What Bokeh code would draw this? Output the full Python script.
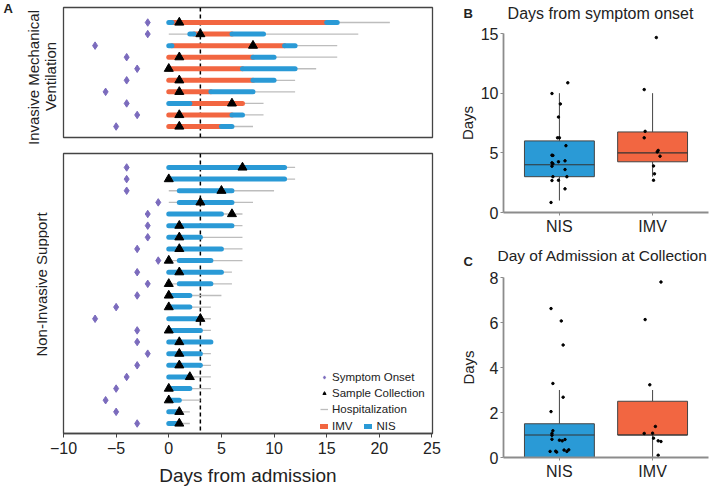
import math
from bokeh.plotting import figure
from bokeh.models import (Range1d, FixedTicker, Span, Legend, LegendItem, Label,
                          ColumnDataSource)
from bokeh.layouts import row, column
from bokeh.embed import file_html
from bokeh.resources import INLINE

FONT = "Liberation Sans"
C_IMV = "#F26641"
C_NIS = "#2A9AD6"
C_ONSET = "#7B6BBD"
C_HOSP = "#BDBDBD"
C_FRAME = "#444444"
C_TEXT = "#222222"

# ---------------- Panel A data (rows top -> bottom), days from admission ----------
# Invasive Mechanical Ventilation group
imv_onset = [-2, -2, -7, -4, -3, -4, -6, -4, -3, -5]
imv_sample = [1, 3, 8, 1, 0, 1, 1, 6, 1, 1]
imv_hosp_start = [0, 0, 0, 0, 0, 0, 0, 0, 0, 0]
imv_hosp_end = [21, 18, 16, 16, 14, 12, 12, 9, 9, 8]
imv_seg_row = [1, 1, 1, 2, 2, 2, 3, 3, 3, 4, 4, 5, 5, 6, 6, 7, 7, 8, 8, 9, 9, 10, 10]
imv_seg_start = [0, 0.3, 15, 2, 2.4, 6, 0, 0.3, 11, 0, 8, 0, 7, 0, 8, 0, 4, 0, 2, 0, 6, 0, 5]
imv_seg_end = [0.3, 15, 16, 2.4, 6, 9, 0.3, 11, 12, 8, 10, 7, 12, 8, 10, 4, 8, 2, 7, 6, 7, 5, 6]
imv_seg_mode = ["NIS", "IMV", "NIS", "NIS", "IMV", "NIS", "NIS", "IMV", "NIS",
                "IMV", "NIS", "IMV", "NIS", "IMV", "NIS", "IMV", "NIS",
                "NIS", "IMV", "IMV", "NIS", "IMV", "NIS"]

# Non-Invasive Support group
nis_onset = [-4, -4, -4, -1, -2, -2, -2, -3, -1, -3, -2, -3, -5, -7, -3, -3, -2, -3, -4, -5, -6, -5, -3]
nis_sample = [7, 0, 5, 3, 6, 1, 1, 1, 0, 1, 0, 0, 0, 3, 0, 1, 1, 1, 2, 0, 0, 1, 1]
nis_hosp_start = [0] * 23
nis_hosp_end = [12, 12, 10, 8, 7, 7, 7, 7, 7, 6, 6, 5, 4, 4, 4, 4, 4, 4, 4, 4, 3, 2, 2]
nis_seg_row = list(range(1, 24))
nis_seg_start = [0, 0, 1, 1, 0, 0, 0, 0, 1, 0, 1, 0, 0, 0, 0, 0, 0, 0, 0, 0, 0, 0, 0]
nis_seg_end = [11, 11, 6, 6, 5, 6, 3, 5, 4, 5, 4, 2, 2, 3, 3, 4, 3, 3, 2, 2, 1, 1, 1]
nis_seg_mode = ["NIS"] * 23

x_ticks_a = [-10, -5, 0, 5, 10, 15, 20, 25]
median_line_day = 3

# ---------------- Panels B / C data ----------------
groups = ["NIS", "IMV"]
onset_box = {"lower": [1, 3], "q1": [3, 4.25], "median": [4, 5], "q3": [6, 6.75], "upper": [10, 10]}
collect_box = {"lower": [0, 0], "q1": [0, 1], "median": [1, 1], "q3": [1.5, 2.5], "upper": [3, 3]}

onset_pts_grp = [1] * 21 + [2] * 10
onset_pts_jit = [-0.09, 0.06, -0.08, -0.01, -0.07, 0.08, 0.06, -0.01, 0.06, -0.08, -0.07,
                 -0.08, -0.07, -0.08, 0.07, -0.02, 0.0, -0.01, 0.01, -0.08, 0.09,
                 0.01, 0.02, 0.01, 0.08, 0.05, 0.06, -0.09, -0.08, -0.09, 0.04]
onset_pts_val = [0.84, 1.98, 2.68, 2.7, 3.0, 3.0, 3.6, 4.25, 4.33, 3.88, 4.08,
                 4.16, 4.78, 4.8, 5.6, 6.26, 6.26, 8.0, 9.1, 9.97, 10.87,
                 2.7, 3.24, 3.9, 4.72, 5.08, 5.2, 6.26, 6.8, 10.3, 14.66]

collect_pts_grp = [1] * 19 + [2] * 10
collect_pts_jit = [-0.09, 0.02, 0.04, -0.07, 0.04, -0.09, -0.07, -0.08, -0.08, -0.08, 0.0,
                   0.03, 0.06, 0.05, 0.08, -0.1, -0.03, -0.04, 0.1,
                   0.09, -0.08, -0.03, 0.03, -0.09, 0.0, 0.01, 0.06, 0.09, 0.06]
collect_pts_val = [6.62, 6.07, 5.0, 3.29, 2.68, 2.04, 1.19, 1.07, 0.99, 0.81, 0.77,
                   0.74, 0.8, 0.33, 0.27, 0.27, 0.24, 0.28, 0.34,
                   7.8, 6.13, 3.23, 1.38, 1.07, 1.08, 0.86, 0.74, 0.71, 0.1]


def blank(width, height):
    """A figure used only to hold text outside the data panels."""
    p = figure(width=width, height=height, x_range=Range1d(0, 1), y_range=Range1d(0, 1),
               x_axis_location=None, y_axis_location=None, output_backend="svg",
               toolbar_location=None, min_border=0)
    p.frame_align = False
    p.grid.visible = False
    p.outline_line_color = None
    return p


def text(p, s, x, y, size="15px", align="center", angle=0.0, bold=False):
    p.add_layout(Label(x=x, y=y, x_units="screen", y_units="screen", text=s, angle=angle,
                       text_align=align, text_baseline="middle", text_font=FONT,
                       text_font_size=size, text_font_style="bold" if bold else "normal",
                       text_color=C_TEXT))


def timeline(p, onset, sample, hosp_start, hosp_end, seg_row, seg_start, seg_end, seg_mode):
    rows = list(range(1, len(onset) + 1))
    p.add_layout(Span(location=median_line_day, dimension="height", line_color="black",
                      line_dash="4 3", line_width=1.5, level="underlay"))
    hosp = p.segment(x0=hosp_start, x1=hosp_end, y0=rows, y1=rows,
                     line_color=C_HOSP, line_width=1.3)
    rends = {}
    for mode, col in (("IMV", C_IMV), ("NIS", C_NIS)):
        idx = [i for i, m in enumerate(seg_mode) if m == mode]
        data = dict(x0=[seg_start[i] for i in idx], x1=[seg_end[i] for i in idx],
                    y=[seg_row[i] for i in idx])
        if not idx:  # legend proxy, nothing drawn in the panel
            data = dict(x0=[float("nan")], x1=[float("nan")], y=[float("nan")])
        rends[mode] = p.segment(x0="x0", x1="x1", y0="y", y1="y",
                                source=ColumnDataSource(data),
                                line_color=col, line_width=5, line_cap="round")
    dia = p.scatter(onset, rows, marker="diamond", size=7.5,
                    fill_color=C_ONSET, line_color=C_ONSET)
    tri = p.scatter(sample, rows, marker="triangle", size=9,
                    fill_color="black", line_color="black")
    return hosp, rends, dia, tri


def style_frame(p):
    p.frame_align = False
    p.grid.visible = False
    p.outline_line_color = C_FRAME
    p.outline_line_width = 1.3


# ---------------- Panel A top (IMV) ----------------
stripA1 = blank(58, 145)
text(stripA1, "A", 3, 137, size="13px", align="left", bold=True)
text(stripA1, "Invasive Mechanical", 33, 68, angle=math.pi / 2)
text(stripA1, "Ventilation", 50, 69, angle=math.pi / 2)

pA1 = figure(width=387, height=145, x_range=Range1d(-10, 25.05), y_range=Range1d(10.95, -0.3),
             x_axis_location=None, y_axis_location=None, output_backend="svg",
             toolbar_location=None, min_border_left=5, min_border_right=13,
             min_border_top=7, min_border_bottom=8)
style_frame(pA1)
timeline(pA1, imv_onset, imv_sample, imv_hosp_start, imv_hosp_end,
         imv_seg_row, imv_seg_start, imv_seg_end, imv_seg_mode)

# ---------------- Panel A bottom (NIS) ----------------
stripA2 = blank(49, 344)
text(stripA2, "Non-Invasive Support", 41, 205, angle=math.pi / 2)

pA2 = figure(width=396, height=344, x_range=Range1d(-10, 25.05), y_range=Range1d(23.86, -0.2),
             y_axis_location=None, output_backend="svg", toolbar_location=None,
             min_border_left=14, min_border_right=13, min_border_top=8, min_border_bottom=56)
style_frame(pA2)
hosp2, rends2, dia2, tri2 = timeline(pA2, nis_onset, nis_sample, nis_hosp_start, nis_hosp_end,
                                     nis_seg_row, nis_seg_start, nis_seg_end, nis_seg_mode)
ax = pA2.xaxis[0]
ax.ticker = FixedTicker(ticks=x_ticks_a)
ax.major_label_overrides = {t: (str(t).replace("-", "\u2212")) for t in x_ticks_a}
ax.axis_line_color = C_FRAME
ax.axis_line_width = 1.3
ax.major_tick_line_color = C_FRAME
ax.major_tick_out = 4
ax.major_tick_in = 0
ax.minor_tick_line_color = None
ax.major_label_text_font = FONT
ax.major_label_text_font_size = "16px"
ax.major_label_text_color = C_TEXT
ax.major_label_standoff = 4
ax.axis_label = "Days from admission"
ax.axis_label_text_font = FONT
ax.axis_label_text_font_size = "19px"
ax.axis_label_text_font_style = "normal"
ax.axis_label_text_color = C_TEXT
ax.axis_label_standoff = 8

leg1 = Legend(items=[LegendItem(label="Symptom Onset", renderers=[dia2]),
                     LegendItem(label="Sample Collection", renderers=[tri2]),
                     LegendItem(label="Hospitalization", renderers=[hosp2])],
              location=(257, 17), orientation="vertical")
leg2 = Legend(items=[LegendItem(label="IMV", renderers=[rends2["IMV"]]),
                     LegendItem(label="NIS", renderers=[rends2["NIS"]])],
              location=(257, 0), orientation="horizontal")
for lg in (leg1, leg2):
    lg.background_fill_alpha = 0
    lg.border_line_alpha = 0
    lg.padding = 0
    lg.margin = 0
    lg.spacing = 2
    lg.label_text_font = FONT
    lg.label_text_font_size = "11.5px"
    lg.label_text_color = C_TEXT
    lg.label_height = 14
    lg.glyph_height = 14
    lg.glyph_width = 8
    lg.label_standoff = 4
leg2.spacing = 12
pA2.add_layout(leg1)
pA2.add_layout(leg2)


# ---------------- Panels B / C ----------------
def box_panel(height, top_border, bottom_border, y_end, y_ticks, stats, pgrp, pjit, pval):
    p = figure(width=264, height=height, x_range=Range1d(0.4, 2.6), y_range=Range1d(0, y_end),
               output_backend="svg", toolbar_location=None, min_border_left=58,
               min_border_right=1, min_border_top=top_border, min_border_bottom=bottom_border)
    p.frame_align = False
    p.grid.visible = False
    p.outline_line_color = None
    xs = [1, 2]
    cols = [C_NIS, C_IMV]
    p.segment(x0=xs, x1=xs, y0=stats["lower"], y1=stats["q1"], line_color="#444444", line_width=1)
    p.segment(x0=xs, x1=xs, y0=stats["q3"], y1=stats["upper"], line_color="#444444", line_width=1)
    p.vbar(x=xs, width=0.75, bottom=stats["q1"], top=stats["q3"], fill_color=cols,
           line_color="#444444", line_width=1)
    p.segment(x0=[x - 0.375 for x in xs], x1=[x + 0.375 for x in xs],
              y0=stats["median"], y1=stats["median"], line_color="#333333", line_width=1.2)
    p.scatter([g + j for g, j in zip(pgrp, pjit)], pval, size=2.5,
              fill_color="black", line_color="black")
    for a in (p.xaxis[0], p.yaxis[0]):
        a.axis_line_color = "#8C8C8C"
        a.axis_line_width = 1.8
        a.major_tick_line_color = "#8C8C8C"
        a.major_tick_out = 3
        a.major_tick_in = 0
        a.minor_tick_line_color = None
        a.major_label_text_font = FONT
        a.major_label_text_font_size = "16px"
        a.major_label_text_color = C_TEXT
        a.major_label_standoff = 2
    p.xaxis.ticker = FixedTicker(ticks=xs)
    p.xaxis.major_label_overrides = {1: groups[0], 2: groups[1]}
    p.yaxis.ticker = FixedTicker(ticks=y_ticks)
    p.yaxis.axis_label = "Days"
    p.yaxis.axis_label_text_font = FONT
    p.yaxis.axis_label_text_font_size = "15px"
    p.yaxis.axis_label_text_font_style = "normal"
    p.yaxis.axis_label_text_color = C_TEXT
    p.yaxis.axis_label_standoff = 2
    return p


headB = blank(264, 24)
text(headB, "B", 18, 11, size="13px", align="left", bold=True)
text(headB, "Days from symptom onset", 155, 11.5, size="16px")

pB = box_panel(218, 9, 30, 15, [0, 5, 10, 15], onset_box, onset_pts_grp, onset_pts_jit, onset_pts_val)

headC = blank(264, 26)
text(headC, "C", 18, 7.5, size="13px", align="left", bold=True)
text(headC, "Day of Admission at Collection", 52, 13, size="15.5px", align="left")

pC = box_panel(221, 9, 32, 8, [0, 2, 4, 6, 8], collect_box, collect_pts_grp, collect_pts_jit, collect_pts_val)
pC.yaxis.axis_label_standoff = 10

layout = row(column(row(stripA1, pA1), row(stripA2, pA2)), column(headB, pB, headC, pC))
open("out.html", "w").write(file_html(layout, INLINE))
